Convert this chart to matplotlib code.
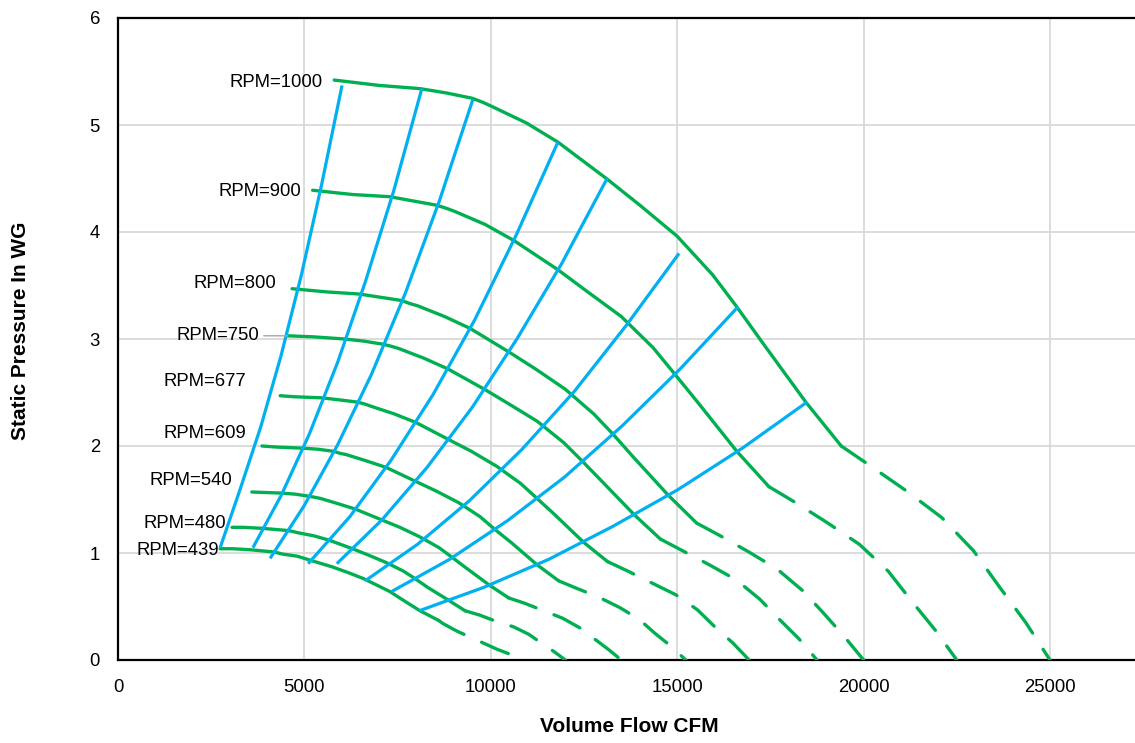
import matplotlib
matplotlib.use("Agg")
import matplotlib.pyplot as plt
from matplotlib import font_manager

# ---------------- data ----------------
rpm_values = [1000, 900, 800, 750, 677, 609, 540, 480, 439]

# fan curves: solid part (Q in CFM, P in in. WG)
q_1000 = [5800, 7000, 8100, 8800, 9500, 9800, 10050, 10950, 11800, 13100, 14000, 15000, 15950, 16600, 17300, 18450, 19400]
p_1000 = [5.42, 5.37, 5.34, 5.30, 5.25, 5.21, 5.17, 5.02, 4.84, 4.50, 4.25, 3.96, 3.60, 3.30, 2.96, 2.41, 2.00]
q_900 = [5220, 6300, 7290, 7920, 8550, 8820, 9050, 9850, 10620, 11790, 12600, 13500, 14350, 14940, 15570, 16600, 17460]
p_900 = [4.39, 4.35, 4.33, 4.29, 4.25, 4.22, 4.19, 4.07, 3.92, 3.65, 3.44, 3.21, 2.92, 2.67, 2.40, 1.95, 1.62]
q_800 = [4670, 5600, 6480, 7040, 7600, 7840, 8040, 8760, 9440, 10480, 11200, 12000, 12760, 13280, 13840, 14760, 15520]
p_800 = [3.47, 3.44, 3.42, 3.39, 3.36, 3.33, 3.31, 3.21, 3.10, 2.88, 2.72, 2.53, 2.30, 2.11, 1.89, 1.54, 1.28]
q_750 = [4550, 5250, 6080, 6600, 7130, 7350, 7540, 8210, 8850, 9830, 10500, 11250, 11960, 12450, 12980, 13840, 14550]
p_750 = [3.03, 3.02, 3.00, 2.98, 2.95, 2.93, 2.91, 2.82, 2.72, 2.53, 2.39, 2.23, 2.03, 1.86, 1.67, 1.36, 1.13]
q_677 = [4350, 4740, 5480, 5960, 6430, 6640, 6800, 7410, 7990, 8870, 9480, 10160, 10800, 11240, 11710, 12490, 13130]
p_677 = [2.47, 2.46, 2.45, 2.43, 2.41, 2.39, 2.37, 2.30, 2.22, 2.06, 1.95, 1.81, 1.65, 1.51, 1.36, 1.10, 0.92]
q_609 = [3860, 4260, 4930, 5360, 5790, 5970, 6120, 6670, 7190, 7980, 8530, 9140, 9710, 10110, 10540, 11240, 11820]
p_609 = [2.00, 1.99, 1.98, 1.97, 1.95, 1.93, 1.92, 1.86, 1.80, 1.67, 1.58, 1.47, 1.34, 1.22, 1.10, 0.89, 0.74]
q_540 = [3590, 4370, 4750, 5130, 5290, 5430, 5910, 6370, 7070, 7560, 8100, 8610, 8960, 9340, 9960, 10480]
p_540 = [1.57, 1.56, 1.55, 1.53, 1.52, 1.51, 1.46, 1.41, 1.31, 1.24, 1.15, 1.05, 0.96, 0.86, 0.70, 0.58]
q_480 = [3060, 3360, 3890, 4220, 4560, 4700, 4820, 5260, 5660, 6290, 6720, 7200, 7660, 7970, 8300, 8860, 9310]
p_480 = [1.24, 1.24, 1.23, 1.22, 1.21, 1.20, 1.19, 1.16, 1.12, 1.04, 0.98, 0.91, 0.83, 0.76, 0.68, 0.56, 0.46]
q_439 = [2740, 3070, 3560, 3860, 4170, 4300, 4410, 4810, 5180, 5750, 6150, 6590, 7000, 7290, 7600, 8100, 8600]
p_439 = [1.04, 1.04, 1.03, 1.02, 1.01, 1.00, 0.99, 0.97, 0.93, 0.87, 0.82, 0.76, 0.69, 0.64, 0.57, 0.46, 0.37]

# fan curves: dashed (extrapolated) part
qd_1000 = [19400, 20200, 21150, 22100, 22950, 23650, 24350, 25000]
pd_1000 = [2.00, 1.81, 1.58, 1.33, 1.02, 0.68, 0.35, 0.00]
qd_900 = [17460, 18180, 19040, 19890, 20660, 21290, 21920, 22500]
pd_900 = [1.62, 1.47, 1.28, 1.08, 0.83, 0.55, 0.28, 0.00]
qd_800 = [15520, 16160, 16920, 17680, 18360, 18920, 19480, 20000]
pd_800 = [1.28, 1.16, 1.01, 0.85, 0.65, 0.44, 0.22, 0.00]
qd_750 = [14550, 15150, 15860, 16580, 17210, 17740, 18260, 18750]
pd_750 = [1.13, 1.02, 0.89, 0.75, 0.57, 0.38, 0.20, 0.00]
qd_677 = [13130, 13680, 14320, 14960, 15540, 16010, 16490, 16930]
pd_677 = [0.92, 0.83, 0.72, 0.61, 0.47, 0.31, 0.16, 0.00]
qd_609 = [11820, 12300, 12880, 13460, 13980, 14400, 14830, 15230]
pd_609 = [0.74, 0.67, 0.59, 0.49, 0.38, 0.25, 0.13, 0.00]
qd_540 = [10480, 10910, 11420, 11930, 12390, 12770, 13150, 13500]
pd_540 = [0.58, 0.53, 0.46, 0.39, 0.30, 0.20, 0.10, 0.00]
qd_480 = [9310, 9700, 10150, 10610, 11020, 11350, 11690, 12000]
pd_480 = [0.46, 0.42, 0.36, 0.31, 0.24, 0.16, 0.08, 0.00]
qd_439 = [8600, 8720, 9090, 9790, 10170, 10920]
pd_439 = [0.37, 0.34, 0.27, 0.16, 0.10, 0.00]

# system curves (blue)
blue_1_q = [2740, 3280, 3830, 4370, 4920, 5460, 6010]
blue_1_p = [1.05, 1.60, 2.18, 2.84, 3.60, 4.44, 5.37]
blue_2_q = [3620, 4380, 5130, 5890, 6640, 7400, 8150]
blue_2_p = [1.05, 1.54, 2.11, 2.78, 3.54, 4.39, 5.34]
blue_3_q = [4080, 4990, 5890, 6800, 7710, 8620, 9520]
blue_3_p = [0.95, 1.44, 2.01, 2.67, 3.43, 4.29, 5.24]
blue_4_q = [5100, 6220, 7330, 8450, 9570, 10680, 11800]
blue_4_p = [0.90, 1.34, 1.87, 2.48, 3.18, 3.97, 4.84]
blue_5_q = [5870, 7080, 8290, 9500, 10700, 11910, 13120]
blue_5_p = [0.90, 1.31, 1.80, 2.36, 3.00, 3.71, 4.50]
blue_6_q = [6630, 8030, 9430, 10840, 12240, 13640, 15050]
blue_6_p = [0.74, 1.08, 1.49, 1.97, 2.51, 3.13, 3.80]
blue_7_q = [7340, 8890, 10440, 11980, 13530, 15080, 16630]
blue_7_p = [0.64, 0.94, 1.30, 1.71, 2.19, 2.72, 3.30]
blue_8_q = [8080, 9820, 11550, 13280, 15010, 16750, 18480]
blue_8_p = [0.46, 0.68, 0.94, 1.25, 1.59, 1.98, 2.41]

x_ticks = [0, 5000, 10000, 15000, 20000, 25000]
y_ticks = [0, 1, 2, 3, 4, 5, 6]

# ---------------- style ----------------
names = {f.name for f in font_manager.fontManager.ttflist}
fam = "Liberation Sans" if "Liberation Sans" in names else "DejaVu Sans"
plt.rcParams["font.family"] = [fam, "DejaVu Sans"]

GREEN = "#00B050"
BLUE = "#00B0F0"
LW = 2.4

solid_curves = [(q_1000, p_1000), (q_900, p_900), (q_800, p_800), (q_750, p_750),
                (q_677, p_677), (q_609, p_609), (q_540, p_540), (q_480, p_480), (q_439, p_439)]
dash_curves = [(qd_1000, pd_1000), (qd_900, pd_900), (qd_800, pd_800), (qd_750, pd_750),
               (qd_677, pd_677), (qd_609, pd_609), (qd_540, pd_540), (qd_480, pd_480), (qd_439, pd_439)]
blue_curves = [(blue_1_q, blue_1_p), (blue_2_q, blue_2_p), (blue_3_q, blue_3_p), (blue_4_q, blue_4_p),
               (blue_5_q, blue_5_p), (blue_6_q, blue_6_p), (blue_7_q, blue_7_p), (blue_8_q, blue_8_p)]

# label offsets in pixels (dx, dy) from the curve start, right-aligned
label_offsets_px = [(-12, 0), (-11, 1), (-16, 7), (-28, 2), (-34, 16), (-16, 14), (-20, 14), (-6, 6), (-1, 0)]

fig = plt.figure(figsize=(11.35, 7.43), dpi=100)
ax = fig.add_axes([118 / 1135, 83 / 743, 1017 / 1135, 642 / 743])

for (q, p) in solid_curves:
    ax.plot(q, p, color=GREEN, lw=LW, solid_capstyle="round", solid_joinstyle="round", zorder=3)
for (q, p) in dash_curves:
    ln, = ax.plot(q, p, color=GREEN, lw=LW, dash_capstyle="round", dash_joinstyle="round", zorder=3)
    ln.set_dashes((8.7, 5.8))
for (q, p) in blue_curves:
    ax.plot(q, p, color=BLUE, lw=2.3, solid_capstyle="butt", solid_joinstyle="round", zorder=4)

for rpm, (q, p), (dx, dy) in zip(rpm_values, solid_curves, label_offsets_px):
    kw = {}
    if rpm == 750:
        kw["arrowprops"] = dict(arrowstyle="-", color="#A6A6A6", lw=1.0, shrinkA=1, shrinkB=0)
    ax.annotate(f"RPM={rpm}", xy=(q[0], p[0]), xytext=(dx * 0.72, dy * 0.72),
                textcoords="offset points", ha="right", va="center_baseline",
                fontsize=13.3, color="#000000", zorder=5, **kw)

ax.set_xlim(0, 27280)
ax.set_ylim(0, 6)
ax.set_xticks(x_ticks)
ax.set_yticks(y_ticks)
ax.grid(True, color="#D9D9D9", lw=1.3)
ax.set_axisbelow(True)
ax.tick_params(axis="both", length=0, labelsize=13.3)
ax.tick_params(axis="y", pad=13)
ax.tick_params(axis="x", pad=14)

for s in ["left", "bottom", "top"]:
    ax.spines[s].set_color("black")
    ax.spines[s].set_linewidth(1.6)
ax.spines["right"].set_visible(False)

ax.set_xlabel("Volume Flow CFM", fontsize=15, fontweight="bold")
ax.xaxis.set_label_coords(0.503, -0.104)
ax.xaxis.label.set_va("center")
ax.set_ylabel("Static Pressure In WG", fontsize=15, fontweight="bold")
ax.yaxis.set_label_coords(-0.0954, 0.512)
ax.yaxis.label.set_va("center")

fig.savefig("out.png", dpi=100)
